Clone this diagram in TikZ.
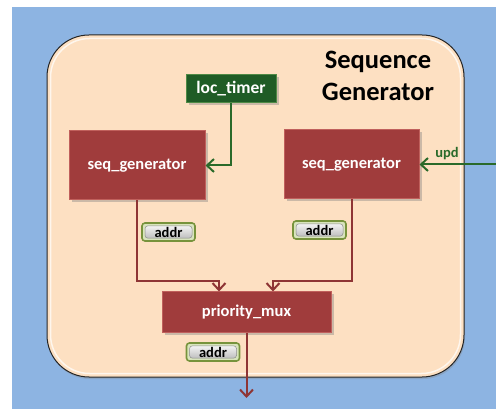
\documentclass[tikz,border=0pt]{standalone}
\usepackage{fontspec}
\setmainfont{Carlito}
\usetikzlibrary{positioning, arrows.meta, shadows}

\definecolor{bgblue}{HTML}{8DB4E2}
\definecolor{peach}{HTML}{FDE0C2}
\definecolor{blockred}{HTML}{A03C3C}
\definecolor{blockedge}{HTML}{C0605C}
\definecolor{timergreen}{HTML}{1F5C26}
\definecolor{timeredge}{HTML}{4F8A45}
\definecolor{wirered}{HTML}{8E3535}
\definecolor{wiregreen}{HTML}{2A6A2A}
\definecolor{tagedge}{HTML}{77933C}
\definecolor{tagfill}{HTML}{D8E4BC}

\begin{document}
\begin{tikzpicture}[x=1pt, y=-1pt,
    block/.style={rectangle, draw=blockedge, fill=blockred, text=white, line width=1pt, inner sep=0pt,
      drop shadow={opacity=0.4, shadow xshift=2.5pt, shadow yshift=-2.5pt},
      font=\fontsize{16.5}{20}\selectfont\bfseries},
    timerbox/.style={rectangle, draw=timeredge, fill=timergreen, text=white, line width=1pt, inner sep=0pt,
      drop shadow={opacity=0.4, shadow xshift=2.5pt, shadow yshift=-2.5pt},
      font=\fontsize{17.5}{20}\selectfont\bfseries},
    addrtag/.style={rectangle, rounded corners=3pt, draw=tagedge, fill=tagfill, line width=1.6pt, inner sep=0pt,
      minimum width=53pt, minimum height=18pt, font=\fontsize{14.5}{16}\selectfont\bfseries,
      path picture={\shade[top color=white, bottom color=black!30, draw=black!45, line width=0.5pt]
        ([shift={(3pt,-2.8pt)}]path picture bounding box.north west) rectangle
        ([shift={(-3pt,2.8pt)}]path picture bounding box.south east);}},
    redwire/.style={draw=wirered, line width=2pt, -{Straight Barb[length=7pt,width=13pt]}},
    greenwire/.style={draw=wiregreen, line width=2pt, -{Straight Barb[length=7pt,width=13pt]}}]
    \useasboundingbox (0,0) rectangle (496,409);
    % Background and container
    \fill[bgblue] (12,7) rectangle (496,409);
    \filldraw[fill=peach, draw=black!85, line width=1pt, rounded corners=42pt,
      drop shadow={opacity=0.3, shadow xshift=1pt, shadow yshift=-2pt}] (47,35) rectangle (464,377);
    \draw[white!70!peach, line width=1.5pt, rounded corners=39pt] (50.5,38.5) rectangle (460.5,373.5);
    \node[font=\fontsize{26.5}{32}\selectfont\bfseries, align=center] (title) at (378,76) {Sequence\\Generator};
    % Blocks
    \node[timerbox, minimum width=90pt, minimum height=28pt] (timer) at (231,89) {loc\_timer};
    \node[block, minimum width=136pt, minimum height=69pt] (seqL) at (137,165.5) {seq\_generator};
    \node[block, minimum width=135pt, minimum height=69pt] (seqR) at (351.5,164.5) {seq\_generator};
    \node[block, minimum width=169pt, minimum height=40pt] (prio) at (246.5,312) {priority\_mux};
    \coordinate (updin) at (496,164.5);
    \coordinate (out) at (246.5,398);
    % Connections
    \draw[greenwire] (timer.south) |- (seqL.east);
    \draw[greenwire] (updin) -- node[above, pos=0.64, text=wiregreen, font=\fontsize{14.5}{16}\selectfont\bfseries] {upd} (seqR.east);
    \draw[redwire] (seqL.south) -- ++(0,81) -| ([xshift=-27.5pt]prio.north);
    \draw[redwire] (seqR.south) -- ++(0,81.5) -| ([xshift=26.5pt]prio.north);
    \draw[redwire] (prio.south) -- (out);
    % Address tags
    \node[addrtag] (addrL) at (168.5,232) {addr};
    \node[addrtag] (addrR) at (319.5,230) {addr};
    \node[addrtag] (addrO) at (213,352) {addr};
\end{tikzpicture}
\end{document}
